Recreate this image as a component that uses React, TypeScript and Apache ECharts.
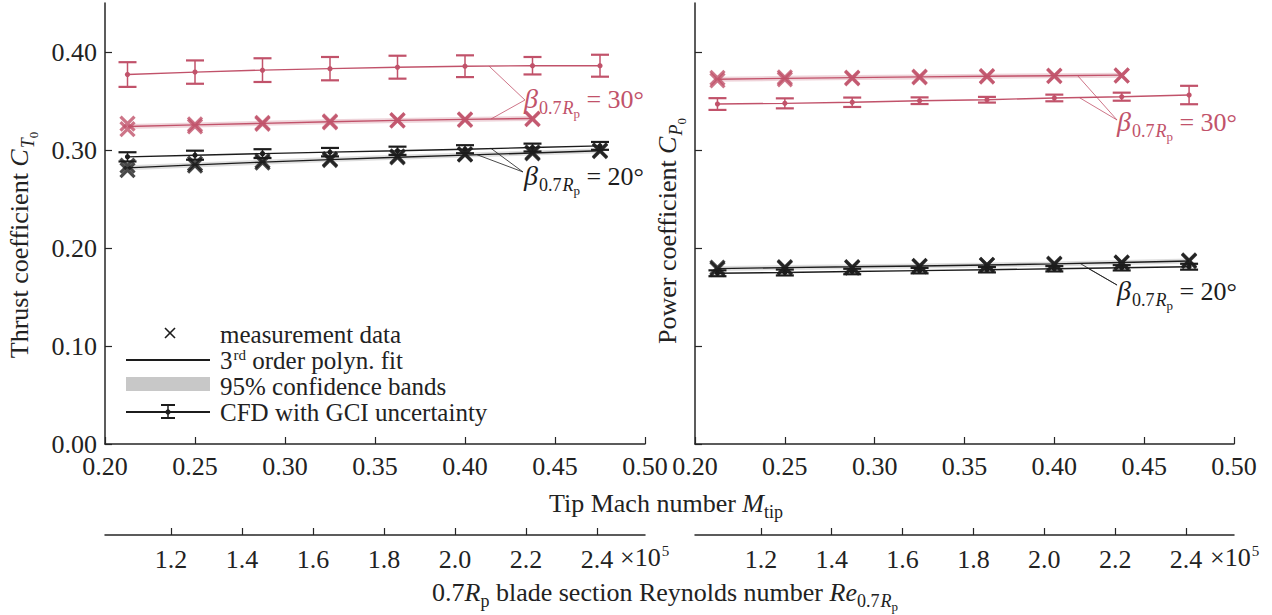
import React, { useEffect, useRef } from 'react';
import * as echarts from 'echarts';

// ---------- data ----------
const machTicks = [0.2, 0.25, 0.3, 0.35, 0.4, 0.45, 0.5];
const coeffTicks = [0, 0.1, 0.2, 0.3, 0.4];
const reTicks = [1.2, 1.4, 1.6, 1.8, 2.0, 2.2, 2.4];
const rePerMach = 5.0704; // Re (x1e5) per unit tip Mach number

const machCFD = [0.2125, 0.25, 0.2875, 0.325, 0.3625, 0.4, 0.4375, 0.475];
const machMeas30 = [0.2125, 0.25, 0.2875, 0.325, 0.3625, 0.4, 0.4375];
const machMeas20 = [0.2125, 0.25, 0.2875, 0.325, 0.3625, 0.4, 0.4375, 0.475];

// Thrust coefficient, beta = 30 deg
const ct30MeasA = [0.327, 0.3262, 0.3276, 0.3293, 0.3305, 0.3313, 0.332];
const ct30MeasB = [0.3212, 0.324, 0.3266, 0.3283, 0.33, 0.3308, 0.3316];
const ct30Fit = [0.324, 0.3256, 0.3272, 0.3288, 0.3302, 0.3312, 0.3322];
const ct30CFD = [0.377, 0.3795, 0.3815, 0.383, 0.3845, 0.3855, 0.386, 0.386];
const ct30Err = [0.0126, 0.0119, 0.0121, 0.0119, 0.0117, 0.0111, 0.0089, 0.0112];
// Thrust coefficient, beta = 20 deg
const ct20MeasA = [0.284, 0.2862, 0.289, 0.2908, 0.2935, 0.2952, 0.2975, 0.2996];
const ct20MeasB = [0.2795, 0.284, 0.2872, 0.2898, 0.2925, 0.2958, 0.2965, 0.2988];
const ct20Fit = [0.2818, 0.2848, 0.2876, 0.2902, 0.2926, 0.2948, 0.297, 0.2992];
const ct20CFD = [0.293, 0.2947, 0.2963, 0.2978, 0.2992, 0.3008, 0.3025, 0.3042];
const ct20Err = [0.0047, 0.0046, 0.0045, 0.0043, 0.0042, 0.0041, 0.004, 0.004];

// Power coefficient, beta = 30 deg
const cp30MeasA = [0.3735, 0.374, 0.3738, 0.3748, 0.3755, 0.3758, 0.3762];
const cp30MeasB = [0.371, 0.3722, 0.373, 0.3742, 0.375, 0.3754, 0.376];
const cp30Fit = [0.3722, 0.3731, 0.3739, 0.3746, 0.3752, 0.3758, 0.3764];
const cp30CFD = [0.3469, 0.3476, 0.3487, 0.3503, 0.3513, 0.3531, 0.3544, 0.3561];
const cp30Err = [0.006, 0.0051, 0.0048, 0.0034, 0.0029, 0.0034, 0.0041, 0.0094];
// Power coefficient, beta = 20 deg
const cp20MeasA = [0.18, 0.1806, 0.1806, 0.1818, 0.1828, 0.184, 0.1852, 0.1874];
const cp20MeasB = [0.1785, 0.1798, 0.18, 0.1812, 0.1825, 0.1834, 0.1848, 0.1866];
const cp20Fit = [0.179, 0.18, 0.1808, 0.1817, 0.1827, 0.1838, 0.1852, 0.1868];
const cp20CFD = [0.1742, 0.175, 0.176, 0.1769, 0.1778, 0.1788, 0.1798, 0.1809];
const cp20Err = [0.003, 0.003, 0.0028, 0.0028, 0.0027, 0.0027, 0.0027, 0.003];

// annotation leader lines: [label anchor, target on curve] in data coordinates
const leadCT30 = [[[0.4333, 0.351], [0.4133, 0.3857]], [[0.4333, 0.351], [0.4144, 0.3316]]];
const leadCT20 = [[[0.4322, 0.2776], [0.4144, 0.3017]], [[0.4322, 0.2776], [0.4067, 0.2952]]];
const leadCP30 = [[[0.4349, 0.3306], [0.4129, 0.376]], [[0.4349, 0.3306], [0.4139, 0.3535]]];
const leadCP20 = [[[0.4349, 0.1622], [0.4143, 0.1843]], [[0.4349, 0.1622], [0.4187, 0.1793]]];

// ---------- styling ----------
const RED = '#c1526a';
const RED_BAND = 'rgba(193,82,106,0.25)';
const BLK = '#1c1c1c';
const BLK_BAND = 'rgba(0,0,0,0.13)';
const AX = '#262626';
const FONT = 'Liberation Serif, Times New Roman, serif';
const FS = 26;

const rich = (c: string, fs = FS) => ({
  n: { fontSize: fs, fontFamily: FONT, fill: c, color: c, verticalAlign: 'top', padding: [2, 0, 0, 0] },
  i: { fontSize: fs, fontFamily: FONT, fontStyle: 'italic', fill: c, color: c, verticalAlign: 'top', padding: [2, 0, 0, 0] },
  b: { fontSize: fs + 2, fontFamily: FONT, fontStyle: 'italic', fill: c, color: c, verticalAlign: 'top', padding: [0, 1, 0, 0] },
  s: { fontSize: 18, fontFamily: FONT, fill: c, color: c, verticalAlign: 'top', padding: [15, 0, 0, 0] },
  si: { fontSize: 18, fontFamily: FONT, fontStyle: 'italic', fill: c, color: c, verticalAlign: 'top', padding: [15, 0, 0, 1] },
  ss: { fontSize: 13, fontFamily: FONT, fill: c, color: c, verticalAlign: 'top', padding: [23, 0, 0, 0] },
  sup: { fontSize: 15, fontFamily: FONT, fill: c, color: c, verticalAlign: 'top', padding: [1, 0, 0, 1] },
});

const txt = (x: number, y: number, text: string, c: string, align = 'left', vAlign = 'middle', rotation = 0, fs = FS) => ({
  type: 'text',
  x,
  y,
  rotation,
  silent: true,
  style: { text, rich: rich(c, fs), align, verticalAlign: vAlign, fill: c, fontFamily: FONT, fontSize: fs },
});

const pairs = (xs: number[], ys: number[]) => ys.map((v, i) => [xs[i], v]);

const machAxis = (g: number) => ({
  type: 'value',
  gridIndex: g,
  position: 'bottom',
  min: 0.2,
  max: 0.5,
  axisLine: { show: true, onZero: false, lineStyle: { color: AX, width: 1.5 } },
  axisTick: { show: true, inside: true, length: 7, customValues: machTicks, lineStyle: { color: AX, width: 1.2 } },
  axisLabel: {
    show: true,
    customValues: machTicks,
    margin: 9,
    fontSize: FS,
    fontFamily: FONT,
    color: '#222',
    formatter: (v: number) => v.toFixed(2),
  },
  splitLine: { show: false },
});

const reAxis = (g: number) => ({
  type: 'value',
  gridIndex: g,
  position: 'bottom',
  offset: 91,
  min: 0.2 * rePerMach,
  max: 0.5 * rePerMach,
  axisLine: { show: true, onZero: false, lineStyle: { color: AX, width: 1.5 } },
  axisTick: { show: true, inside: true, length: 7, customValues: reTicks, lineStyle: { color: AX, width: 1.2 } },
  axisLabel: {
    show: true,
    customValues: reTicks,
    margin: 11,
    fontSize: FS,
    fontFamily: FONT,
    color: '#222',
    formatter: (v: number) => v.toFixed(1),
  },
  splitLine: { show: false },
});

const yAxis = (g: number, labels: boolean) => ({
  type: 'value',
  gridIndex: g,
  min: 0,
  max: 0.45,
  axisLine: { show: true, onZero: false, lineStyle: { color: AX, width: 1.5 } },
  axisTick: { show: true, inside: true, length: 7, customValues: coeffTicks, lineStyle: { color: AX, width: 1.2 } },
  axisLabel: {
    show: labels,
    customValues: coeffTicks,
    margin: 8,
    fontSize: FS,
    fontFamily: FONT,
    color: '#222',
    formatter: (v: number) => v.toFixed(2),
  },
  splitLine: { show: false },
});

const errRender = (color: string) => (params: any, api: any) => {
  const x = api.value(0);
  const y = api.value(1);
  const e = api.value(2);
  const t = api.coord([x, y + e]);
  const b = api.coord([x, y - e]);
  const c = api.coord([x, y]);
  const hw = 9;
  return {
    type: 'group',
    children: [
      { type: 'line', shape: { x1: t[0], y1: t[1], x2: b[0], y2: b[1] }, style: { stroke: color, lineWidth: 1.5 } },
      { type: 'line', shape: { x1: t[0] - hw, y1: t[1], x2: t[0] + hw, y2: t[1] }, style: { stroke: color, lineWidth: 2.2 } },
      { type: 'line', shape: { x1: b[0] - hw, y1: b[1], x2: b[0] + hw, y2: b[1] }, style: { stroke: color, lineWidth: 2.2 } },
      { type: 'circle', shape: { cx: c[0], cy: c[1], r: 2.6 }, style: { fill: color } },
    ],
  };
};

const XMARK = 'path://M0,0L10,10M10,0L0,10';

function group(
  xi: number, yi: number, color: string, band: string,
  measM: number[], measA: number[], measB: number[], fit: number[],
  cfd: number[], err: number[], leaders: number[][][],
) {
  const base = { xAxisIndex: xi, yAxisIndex: yi, silent: true };
  return [
    {
      ...base, type: 'line', data: pairs(measM, fit), showSymbol: false, symbol: 'none', z: 1,
      lineStyle: { color: band, width: 5, cap: 'butt' },
    },
    {
      ...base, type: 'line', data: pairs(measM, fit), showSymbol: false, symbol: 'none', z: 3,
      lineStyle: { color, width: 1.4 },
      markLine: {
        silent: true, symbol: ['none', 'none'], label: { show: false },
        lineStyle: { color, width: 0.8, type: 'solid' },
        data: leaders.map(([a, b]) => [{ coord: a }, { coord: b }]),
      },
    },
    {
      ...base, type: 'line', data: pairs(machCFD, cfd), showSymbol: false, symbol: 'none', z: 3,
      lineStyle: { color, width: 1.4 },
    },
    {
      ...base, type: 'custom', z: 4, renderItem: errRender(color),
      data: cfd.map((v, i) => [machCFD[i], v, err[i]]), encode: { x: 0, y: 1 },
    },
    {
      ...base, type: 'scatter', z: 5, symbol: XMARK, symbolSize: 14, data: pairs(measM, measA),
      itemStyle: { color: 'rgba(0,0,0,0)', borderColor: color, borderWidth: 3.2 },
    },
    {
      ...base, type: 'scatter', z: 5, symbol: XMARK, symbolSize: 14, data: pairs(measM, measB),
      itemStyle: { color: 'rgba(0,0,0,0)', borderColor: color, borderWidth: 3.2 },
    },
  ];
}

const betaLabel = (deg: number) => `{b|β}{s|0.7}{si|R}{ss|p}{n| = ${deg}°}`;

const legendX = 126;
const legendText = 220;
const LFS = 25;

function buildOption() {
  return {
    animation: false,
    backgroundColor: '#ffffff',
    grid: [
      { left: 105, top: 3, width: 540, height: 441, outerBoundsMode: 'none' },
      { left: 695, top: 3, width: 539, height: 441, outerBoundsMode: 'none' },
    ],
    xAxis: [machAxis(0), reAxis(0), machAxis(1), reAxis(1)],
    yAxis: [yAxis(0, true), yAxis(1, false)],
    series: [
      ...group(0, 0, RED, RED_BAND, machMeas30, ct30MeasA, ct30MeasB, ct30Fit, ct30CFD, ct30Err, leadCT30),
      ...group(0, 0, BLK, BLK_BAND, machMeas20, ct20MeasA, ct20MeasB, ct20Fit, ct20CFD, ct20Err, leadCT20),
      ...group(2, 1, RED, RED_BAND, machMeas30, cp30MeasA, cp30MeasB, cp30Fit, cp30CFD, cp30Err, leadCP30),
      ...group(2, 1, BLK, BLK_BAND, machMeas20, cp20MeasA, cp20MeasB, cp20Fit, cp20CFD, cp20Err, leadCP20),
    ],
    graphic: [
      // annotation labels
      txt(524, 84, betaLabel(30), RED, 'left', 'top'),
      txt(524, 161, betaLabel(20), BLK, 'left', 'top'),
      txt(1117, 107, betaLabel(30), RED, 'left', 'top'),
      txt(1117, 276, betaLabel(20), BLK, 'left', 'top'),
      // axis titles
      txt(22, 245, '{n|Thrust coefficient }{i|C}{si|T}{ss|0}', '#222', 'center', 'middle', Math.PI / 2),
      txt(670, 231, '{n|Power coefficient }{i|C}{si|P}{ss|0}', '#222', 'center', 'middle', Math.PI / 2),
      txt(666, 488, '{n|Tip Mach number }{i|M}{s|tip}', '#222', 'center', 'top'),
      txt(665, 577, '{n|0.7}{i|R}{s|p}{n| blade section Reynolds number }{i|Re}{s|0.7}{si|R}{ss|p}', '#222', 'center', 'top'),
      txt(620, 542, '{n|×10}{sup|5}', '#222', 'left', 'top'),
      txt(1210, 542, '{n|×10}{sup|5}', '#222', 'left', 'top'),
      // legend
      { type: 'line', silent: true, shape: { x1: 165, y1: 328, x2: 175, y2: 338 }, style: { stroke: BLK, lineWidth: 1.6 } },
      { type: 'line', silent: true, shape: { x1: 175, y1: 328, x2: 165, y2: 338 }, style: { stroke: BLK, lineWidth: 1.6 } },
      txt(legendText, 320, '{n|measurement data}', '#222', 'left', 'top', 0, LFS),
      { type: 'line', silent: true, shape: { x1: legendX, y1: 360, x2: 210, y2: 360 }, style: { stroke: BLK, lineWidth: 2 } },
      txt(legendText, 346, '{n|3}{sup|rd}{n| order polyn. fit}', '#222', 'left', 'top', 0, LFS),
      { type: 'rect', silent: true, shape: { x: legendX, y: 377, width: 84, height: 14 }, style: { fill: '#c8c8c8' } },
      txt(legendText, 372, '{n|95% confidence bands}', '#222', 'left', 'top', 0, LFS),
      { type: 'line', silent: true, shape: { x1: legendX, y1: 412, x2: 210, y2: 412 }, style: { stroke: BLK, lineWidth: 2 } },
      { type: 'line', silent: true, shape: { x1: 168, y1: 405, x2: 168, y2: 418 }, style: { stroke: BLK, lineWidth: 1.5 } },
      { type: 'line', silent: true, shape: { x1: 161, y1: 405, x2: 175, y2: 405 }, style: { stroke: BLK, lineWidth: 2 } },
      { type: 'line', silent: true, shape: { x1: 161, y1: 418, x2: 175, y2: 418 }, style: { stroke: BLK, lineWidth: 2 } },
      { type: 'circle', silent: true, shape: { cx: 168, cy: 412, r: 2.6 }, style: { fill: BLK } },
      txt(legendText, 398, '{n|CFD with GCI uncertainty}', '#222', 'left', 'top', 0, LFS),
    ],
  };
}

export default function App() {
  const ref = useRef<HTMLDivElement>(null);
  useEffect(() => {
    if (!ref.current) return;
    const chart = echarts.init(ref.current, undefined, { renderer: 'svg' });
    chart.setOption(buildOption() as any);
    return () => chart.dispose();
  }, []);
  return (
    <div
      ref={ref}
      style={{ position: 'fixed', left: 0, top: 0, width: 1272, height: 615, background: '#fff' }}
    />
  );
}
